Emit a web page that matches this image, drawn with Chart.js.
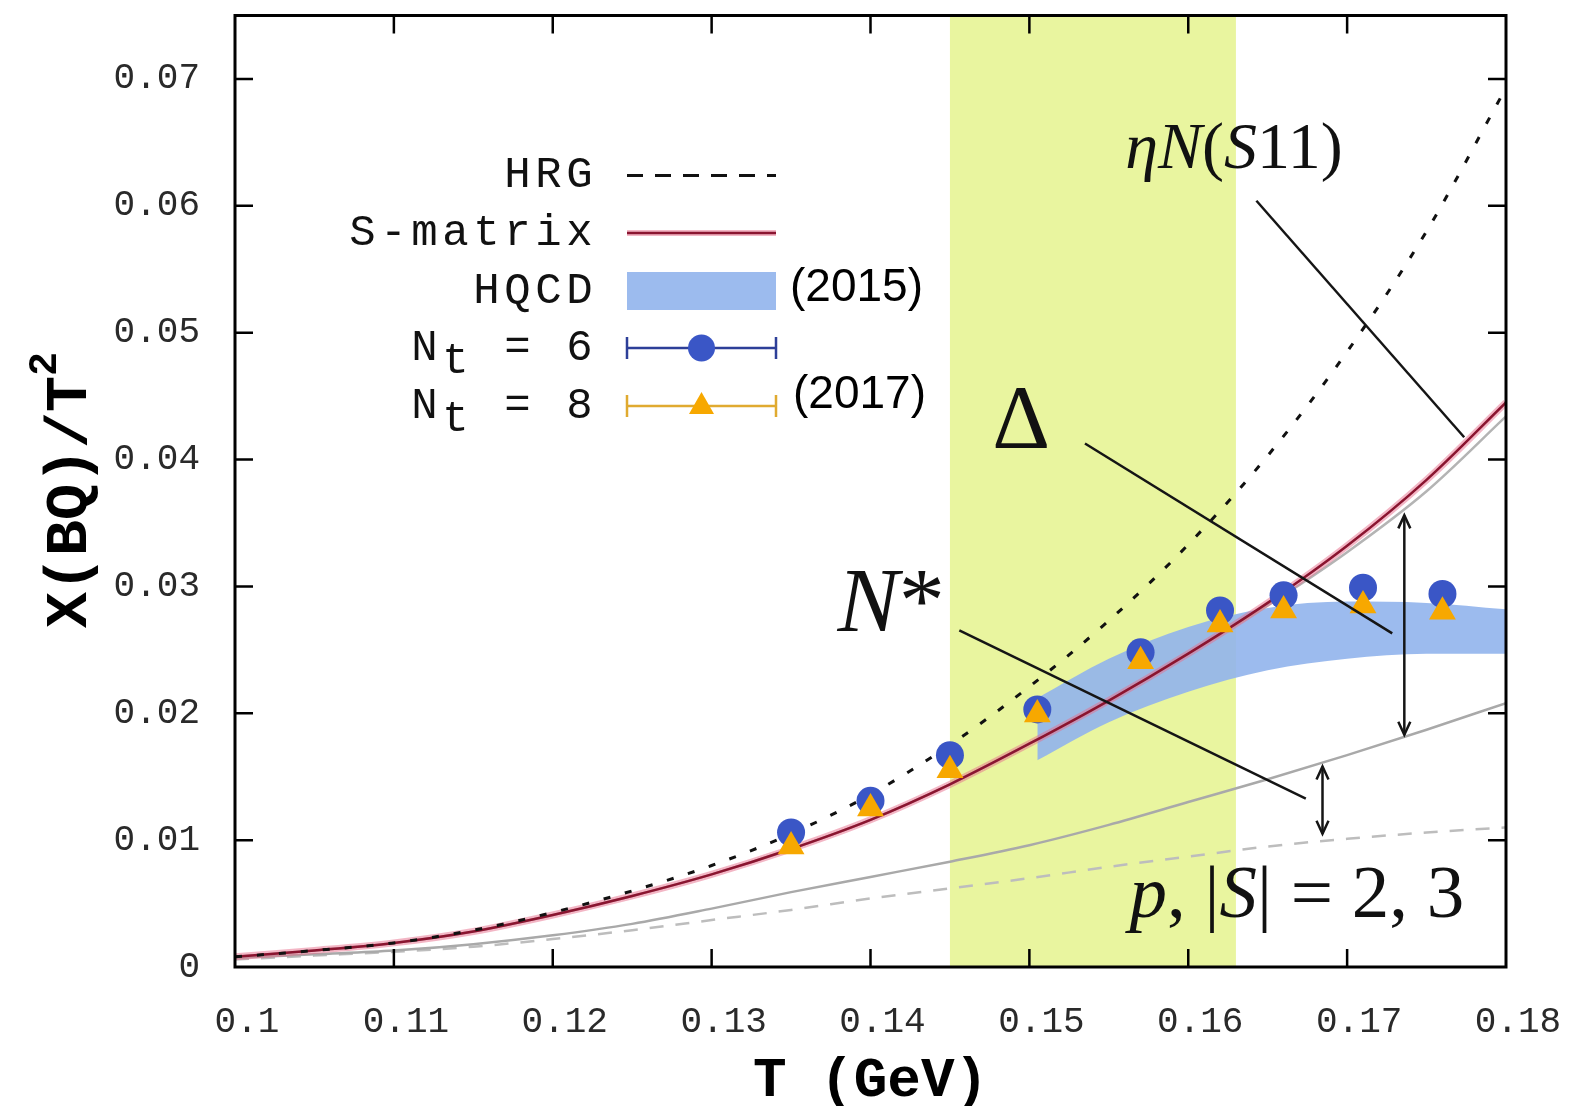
<!DOCTYPE html>
<html><head><meta charset="utf-8">
<script src="https://cdn.jsdelivr.net/npm/chart.js@4.4.1/dist/chart.umd.min.js"></script>
<style>html,body{margin:0;padding:0;background:#fff;overflow:hidden}#wrap{width:1573px;height:1106px}</style>
</head><body><div id="wrap"><canvas id="c" width="1573" height="1106"></canvas></div>
<script>
// ---- tick values / labels ----
const xTicks = [0.10,0.11,0.12,0.13,0.14,0.15,0.16,0.17,0.18];
const xTickLabels = ['0.1','0.11','0.12','0.13','0.14','0.15','0.16','0.17','0.18'];
const yTicks = [0,0.01,0.02,0.03,0.04,0.05,0.06,0.07];
const yTickLabels = ['0','0.01','0.02','0.03','0.04','0.05','0.06','0.07'];

// ---- curves (T in GeV) ----
const curveT      = [0.100,0.105,0.110,0.115,0.120,0.125,0.130,0.135,0.140,0.145,0.150,0.155,0.160,0.165,0.170,0.175,0.180];
const hrg         = [0.0008,0.0013,0.0019,0.0029,0.0043,0.0060,0.0080,0.0105,0.0136,0.0175,0.0221,0.0273,0.0333,0.0403,0.0485,0.0580,0.0693];
const sMatrix     = [0.0008,0.0013,0.0019,0.0028,0.0041,0.0056,0.0073,0.0093,0.0116,0.0144,0.0176,0.0210,0.0247,0.0287,0.0332,0.0384,0.0445];
const sMatrixGray = [0.0008,0.0013,0.0019,0.0028,0.0041,0.0056,0.0073,0.0093,0.0116,0.0144,0.0176,0.0210,0.0247,0.0285,0.0327,0.0375,0.0434];
const lowerSolid  = [0.0007,0.0010,0.0013,0.0018,0.0025,0.0034,0.0046,0.0059,0.0071,0.0083,0.0096,0.0112,0.0130,0.0148,0.0167,0.0187,0.0208];
const lowerDashed = [0.0006,0.0009,0.0012,0.0016,0.0022,0.0029,0.0037,0.0045,0.0054,0.0062,0.0070,0.0079,0.0087,0.0095,0.0101,0.0106,0.0110];

// ---- HQCD band ----
const hqcdT     = [0.1505,0.155,0.160,0.165,0.170,0.175,0.180];
const hqcdUpper = [0.0212,0.0243,0.0268,0.0283,0.0288,0.0287,0.0282];
const hqcdLower = [0.0163,0.0193,0.0217,0.0234,0.0243,0.0247,0.0247];

// ---- lattice points ----
const latticeT = [0.135,0.140,0.145,0.1505,0.157,0.162,0.166,0.171,0.176];
const nt6      = [0.0106,0.0131,0.0167,0.0203,0.0248,0.0281,0.0293,0.0299,0.0294];
const nt8      = [0.0095,0.0125,0.0155,0.0199,0.0241,0.0270,0.0281,0.0285,0.0280];

// ---- crossover band (T range) ----
const crossoverBand = [0.145, 0.163];

// ---- annotations (data coordinates) ----
const annoLines = [
  {from:[0.16429,0.06040], to:[0.17737,0.04176]},
  {from:[0.15350,0.04126], to:[0.17284,0.02630]},
  {from:[0.14559,0.02653], to:[0.16740,0.01327]}
];
const annoArrows = [
  {t:0.17360, top:0.0356, bottom:0.0183},
  {t:0.16845, top:0.0158, bottom:0.0105}
];
const annoTexts = [
  {t:0.15604, v:0.06295, size:66, runs:[['η',1],['N',1],['(',0],['S',1],['11)',0]]},
  {t:0.14767, v:0.04089, size:90, runs:[['Δ',0]]},
  {t:0.13792, v:0.02645, size:92, runs:[['N',1],['*',0]]},
  {t:0.15630, v:0.00392, size:75, runs:[['p',1],[', |',0],['S',1],['| = 2, 3',0]]}
];

// ---- legend ----
const legendLabels = ['HRG','S-matrix','HQCD','N_t = 6','N_t = 8'];
const yearLabels = ['(2015)','(2017)'];

const C = {
  hrg:'#111111', red:'#8a1530', halo:'rgba(232,110,140,0.5)', grayUp:'#b4b4b4',
  graySolid:'#a9a9a9', grayDash:'#bdbdbd', band:'rgba(145,180,236,0.9)',
  blue:'#3a56c6', blueLine:'#2d3f98', orange:'#f7a800', orangeLine:'#e0aa30', yellow:'#e9f59f'
};

const pts = (xs, ys) => xs.map((x,i)=>({x:x, y:ys[i]}));
const lineDs = (label, ys, color, width, dash, order) => ({
  label, data: pts(curveT, ys), borderColor: color, borderWidth: width, borderDash: dash||[],
  pointRadius: 0, fill: false, cubicInterpolationMode: 'monotone', order
});

const datasets = [
  {label:'HQCD lower', data: pts(hqcdT, hqcdLower), borderWidth:0, pointRadius:0, fill:false, order:20, cubicInterpolationMode:'monotone'},
  {label:'HQCD', data: pts(hqcdT, hqcdUpper), borderWidth:0, pointRadius:0, fill:'-1', backgroundColor:C.band, order:19, cubicInterpolationMode:'monotone'},
  lineDs('p,|S|=2,3 dashed', lowerDashed, C.grayDash, 2.5, [14,12], 18),
  lineDs('p,|S|=2,3', lowerSolid, C.graySolid, 2.5, null, 17),
  lineDs('S-matrix gray', sMatrixGray, C.grayUp, 2.5, null, 16),
  lineDs('S-matrix halo', sMatrix, C.halo, 7, null, 15),
  lineDs('S-matrix', sMatrix, C.red, 2.5, null, 14),
  lineDs('HRG', hrg, C.hrg, 3, [7,15], 13),
  {label:'N_t = 6', data: pts(latticeT, nt6), showLine:false, pointStyle:'circle', pointRadius:14,
   backgroundColor:C.blue, borderColor:C.blue, borderWidth:0, order:2},
  {label:'N_t = 8', data: pts(latticeT, nt8), showLine:false, pointStyle:'triangle', pointRadius:15.5,
   backgroundColor:C.orange, borderColor:C.orange, borderWidth:0, order:1}
];

function drawRuns(ctx, runs, x, y, size){
  let cx = x;
  for (const [txt, it] of runs){
    ctx.font = (it?'italic ':'') + size + 'px "Liberation Serif", "DejaVu Serif", serif';
    ctx.fillText(txt, cx, y);
    cx += ctx.measureText(txt).width;
  }
}

const decor = {
  id:'decor',
  beforeDatasetsDraw(chart){
    const {ctx, chartArea:a, scales:{x}} = chart;
    const x0 = x.getPixelForValue(crossoverBand[0]), x1 = x.getPixelForValue(crossoverBand[1]);
    ctx.save(); ctx.fillStyle = C.yellow; ctx.fillRect(x0, a.top, x1-x0, a.bottom-a.top); ctx.restore();
  },
  afterDatasetsDraw(chart){
    const {ctx, scales:{x, y}} = chart;
    ctx.save();
    ctx.strokeStyle = '#151515'; ctx.lineWidth = 2.5; ctx.lineCap='butt';
    for (const l of annoLines){
      ctx.beginPath();
      ctx.moveTo(x.getPixelForValue(l.from[0]), y.getPixelForValue(l.from[1]));
      ctx.lineTo(x.getPixelForValue(l.to[0]), y.getPixelForValue(l.to[1]));
      ctx.stroke();
    }
    for (const ar of annoArrows){
      const px = x.getPixelForValue(ar.t), pt = y.getPixelForValue(ar.top), pb = y.getPixelForValue(ar.bottom);
      ctx.beginPath(); ctx.moveTo(px, pt); ctx.lineTo(px, pb); ctx.stroke();
      ctx.beginPath();
      ctx.moveTo(px-6, pt+13); ctx.lineTo(px, pt); ctx.lineTo(px+6, pt+13);
      ctx.moveTo(px-6, pb-13); ctx.lineTo(px, pb); ctx.lineTo(px+6, pb-13);
      ctx.stroke();
    }
    ctx.fillStyle = '#111'; ctx.textBaseline = 'alphabetic'; ctx.textAlign='left';
    for (const t of annoTexts){
      drawRuns(ctx, t.runs, x.getPixelForValue(t.t), y.getPixelForValue(t.v), t.size);
    }
    ctx.restore();
  },
  afterDraw(chart){
    const {ctx, chartArea:a, scales:{x, y}} = chart;
    ctx.save();
    // frame
    ctx.strokeStyle = '#000'; ctx.lineWidth = 3;
    ctx.strokeRect(a.left, a.top, a.right-a.left, a.bottom-a.top);
    ctx.lineWidth = 2.5;
    ctx.beginPath();
    xTicks.forEach((v,i)=>{ if(i===0||i===xTicks.length-1) return; const px = x.getPixelForValue(v);
      ctx.moveTo(px, a.bottom); ctx.lineTo(px, a.bottom-18); ctx.moveTo(px, a.top); ctx.lineTo(px, a.top+18); });
    yTicks.forEach((v,i)=>{ if(i===0) return; const py = y.getPixelForValue(v);
      ctx.moveTo(a.left, py); ctx.lineTo(a.left+18, py); ctx.moveTo(a.right, py); ctx.lineTo(a.right-18, py); });
    ctx.stroke();

    // y title
    ctx.save();
    ctx.translate(86, 490);
    ctx.rotate(-Math.PI/2);
    ctx.fillStyle = '#000'; ctx.textBaseline='alphabetic'; ctx.textAlign='left';
    ctx.font = 'bold 60px "Liberation Mono", monospace';
    const main = 'X(BQ)/T'; const w1 = ctx.measureText(main).width;
    ctx.font = 'bold 40px "Liberation Mono", monospace';
    const w2 = ctx.measureText('2').width;
    const start = -(w1+w2)/2;
    ctx.font = 'bold 60px "Liberation Mono", monospace';
    ctx.fillText(main, start, 0);
    ctx.font = 'bold 40px "Liberation Mono", monospace';
    ctx.fillText('2', start + w1, -30);
    ctx.restore();

    // legend
    const rowsY = [175.5, 233, 291, 348, 406];
    const textRight = a.left + 360, s0 = a.left + 392, s1 = a.left + 541, sm = (s0+s1)/2;
    const cell = 31;
    ctx.fillStyle = '#111'; ctx.textBaseline = 'middle'; ctx.textAlign = 'center';
    legendLabels.forEach((lab, i)=>{
      const chars = [];
      for (let k=0;k<lab.length;k++){
        if (lab[k]==='_'){ chars.push({c:lab[k+1], sub:true}); k++; } else chars.push({c:lab[k], sub:false});
      }
      let cx = textRight - chars.length*cell;
      ctx.font = '44px "Liberation Mono", monospace';
      chars.forEach(ch=>{ ctx.fillText(ch.c, cx + cell/2, rowsY[i] + (ch.sub?13:0)); cx += cell; });
    });
    // samples
    ctx.textAlign = 'left';
    ctx.lineWidth = 3; ctx.strokeStyle = C.hrg; ctx.setLineDash([16,12]);
    ctx.beginPath(); ctx.moveTo(s0, rowsY[0]); ctx.lineTo(s1, rowsY[0]); ctx.stroke(); ctx.setLineDash([]);
    ctx.lineWidth = 6; ctx.strokeStyle = C.halo;
    ctx.beginPath(); ctx.moveTo(s0, rowsY[1]); ctx.lineTo(s1, rowsY[1]); ctx.stroke();
    ctx.lineWidth = 2.5; ctx.strokeStyle = C.red;
    ctx.beginPath(); ctx.moveTo(s0, rowsY[1]); ctx.lineTo(s1, rowsY[1]); ctx.stroke();
    ctx.fillStyle = C.band; ctx.fillRect(s0, rowsY[2]-19, s1-s0, 38);
    [[rowsY[3], C.blueLine, C.blue, 'circle'],[rowsY[4], C.orangeLine, C.orange, 'triangle']].forEach(([ry, lc, fc, st])=>{
      ctx.strokeStyle = lc; ctx.lineWidth = 2.5;
      ctx.beginPath(); ctx.moveTo(s0, ry); ctx.lineTo(s1, ry);
      ctx.moveTo(s0, ry-11); ctx.lineTo(s0, ry+11); ctx.moveTo(s1, ry-11); ctx.lineTo(s1, ry+11); ctx.stroke();
      ctx.fillStyle = fc; ctx.beginPath();
      if (st==='circle'){ ctx.arc(sm, ry, 13.5, 0, Math.PI*2); }
      else { ctx.moveTo(sm, ry-14); ctx.lineTo(sm+12.5, ry+8); ctx.lineTo(sm-12.5, ry+8); ctx.closePath(); }
      ctx.fill();
    });
    // years
    ctx.fillStyle = '#000'; ctx.textBaseline='middle';
    ctx.font = '46px "Liberation Sans", Arial, sans-serif';
    ctx.fillText(yearLabels[0], s1 + 14, rowsY[2] - 3);
    ctx.fillText(yearLabels[1], s1 + 17, 395);
    ctx.restore();
  }
};

const tickFont = {family:'"Liberation Mono", monospace', size:36};
const zeroPad = s => { s.paddingTop = 0; s.paddingBottom = 0; s.paddingLeft = 0; s.paddingRight = 0; };
new Chart(document.getElementById('c'), {
  type:'line',
  data:{datasets},
  plugins:[decor],
  options:{
    responsive:false, animation:false, devicePixelRatio:1,
    layout:{padding:{left:0, right:67, top:11, bottom:0}},
    plugins:{legend:{display:false}, tooltip:{enabled:false}},
    scales:{
      x:{type:'linear', position:'bottom', min:0.1, max:0.18,
        grid:{display:false}, border:{display:false},
        afterBuildTicks: s => { s.ticks = xTicks.map(v=>({value:v})); },
        afterFit: s => { s.height = 139; zeroPad(s); },
        ticks:{font:tickFont, color:'#2a2a2a', padding:26, labelOffset:12, maxRotation:0, autoSkip:false,
          callback:(v,i)=>xTickLabels[i]},
        title:{display:true, text:'T (GeV)', color:'#000', padding:{top:0,bottom:0},
          font:{family:'"Liberation Mono", monospace', size:56, weight:'bold', lineHeight:0.85}}
      },
      y:{type:'linear', position:'left', min:0, max:0.075,
        grid:{display:false}, border:{display:false},
        afterBuildTicks: s => { s.ticks = yTicks.map(v=>({value:v})); },
        afterFit: s => { s.width = 235; zeroPad(s); },
        ticks:{font:tickFont, color:'#2a2a2a', padding:27, autoSkip:false,
          callback:(v,i)=>yTickLabels[i]}
      }
    }
  }
});
</script></body></html>
